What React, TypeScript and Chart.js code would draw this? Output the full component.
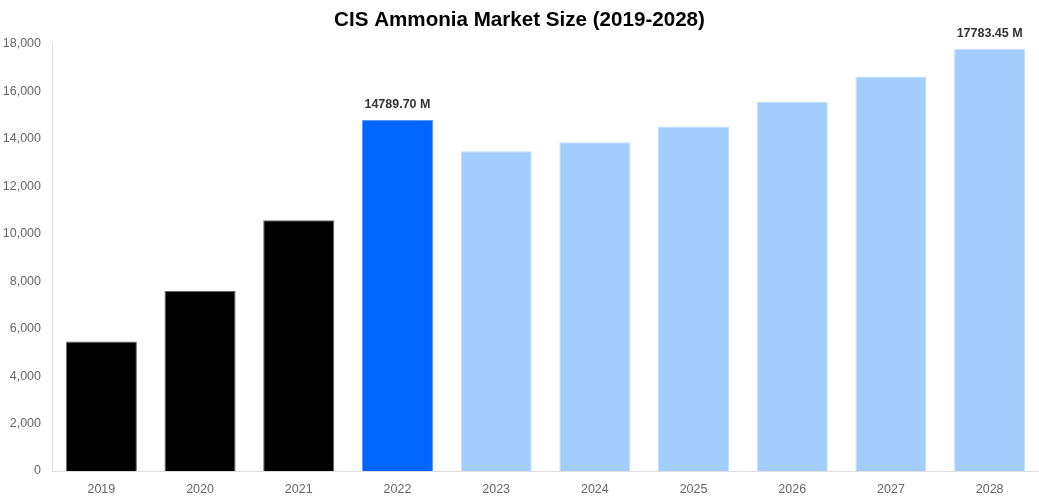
import { useRef, useEffect } from "react";
import { Chart, registerables, Plugin } from "chart.js";

Chart.register(...registerables);

// Market size, USD million
const years = ["2019", "2020", "2021", "2022", "2023", "2024", "2025", "2026", "2027", "2028"];
const marketSize = [5460, 7580, 10560, 14789.7, 13470, 13850, 14510, 15560, 16620, 17783.45];
const barColors = ["#000000", "#000000", "#000000", "#0066ff", "#a2cdfd", "#a2cdfd", "#a2cdfd", "#a2cdfd", "#a2cdfd", "#a2cdfd"];
const barBorders = ["#666666", "#666666", "#666666", "#5a9bff", "#c0ddfe", "#c0ddfe", "#c0ddfe", "#c0ddfe", "#c0ddfe", "#c0ddfe"];
// only these bars get a value label
const labelledYears = ["2022", "2028"];

const FONT = "'Liberation Sans', Arial, Helvetica, sans-serif";

const valueLabels: Plugin<"bar"> = {
  id: "valueLabels",
  afterDatasetsDraw(chart) {
    const ctx = chart.ctx;
    const meta = chart.getDatasetMeta(0);
    ctx.save();
    ctx.font = `bold 12.5px ${FONT}`;
    ctx.fillStyle = "#333333";
    ctx.textAlign = "center";
    ctx.textBaseline = "bottom";
    meta.data.forEach((bar, i) => {
      if (!labelledYears.includes(years[i])) return;
      ctx.fillText(`${marketSize[i].toFixed(2)} M`, bar.x, bar.y - 9);
    });
    ctx.restore();
  },
};

function MarketChart() {
  const chartRef = useRef<HTMLCanvasElement>(null);
  const chartInstanceRef = useRef<Chart | null>(null);

  useEffect(() => {
    if (!chartRef.current) return;
    const ctx = chartRef.current.getContext("2d");
    if (!ctx) return;

    chartInstanceRef.current = new Chart(ctx, {
      type: "bar",
      data: {
        labels: years,
        datasets: [
          {
            label: "Market Size",
            data: marketSize,
            backgroundColor: barColors,
            borderColor: barBorders,
            borderWidth: 1,
            categoryPercentage: 0.8,
            barPercentage: 0.9,
          },
        ],
      },
      options: {
        responsive: false,
        animation: false,
        layout: { padding: { left: 0, right: 0, top: 0, bottom: 4 } },
        scales: {
          x: {
            grid: { display: false, drawTicks: false },
            border: { display: true, color: "#dddddd" },
            afterFit: (scale) => {
              scale.height = 25;
            },
            ticks: { color: "#666666", font: { family: FONT, size: 12.5 }, padding: 11 },
          },
          y: {
            min: 0,
            max: 18000,
            grid: { display: false, drawTicks: false },
            border: { display: true, color: "#dddddd" },
            afterFit: (scale) => {
              scale.width = 52;
            },
            ticks: {
              stepSize: 2000,
              color: "#666666",
              font: { family: FONT, size: 12.5 },
              padding: 11,
              callback: (v) => Number(v).toLocaleString("en-US"),
            },
          },
        },
        plugins: {
          legend: { display: false },
          tooltip: { enabled: false },
          title: {
            display: true,
            text: "CIS Ammonia Market Size (2019-2028)",
            color: "#000000",
            font: { family: FONT, size: 20.6, weight: "bold" },
            padding: { top: 8, bottom: 11 },
          },
        },
      },
      plugins: [valueLabels],
    });

    return () => {
      if (chartInstanceRef.current) {
        chartInstanceRef.current.destroy();
        chartInstanceRef.current = null;
      }
    };
  }, []);

  return <canvas ref={chartRef} width={1039} height={500} style={{ display: "block" }} />;
}

export default function App() {
  useEffect(() => {
    document.body.style.margin = "0";
  }, []);
  return (
    <div style={{ width: 1039, height: 500 }}>
      <MarketChart />
    </div>
  );
}
